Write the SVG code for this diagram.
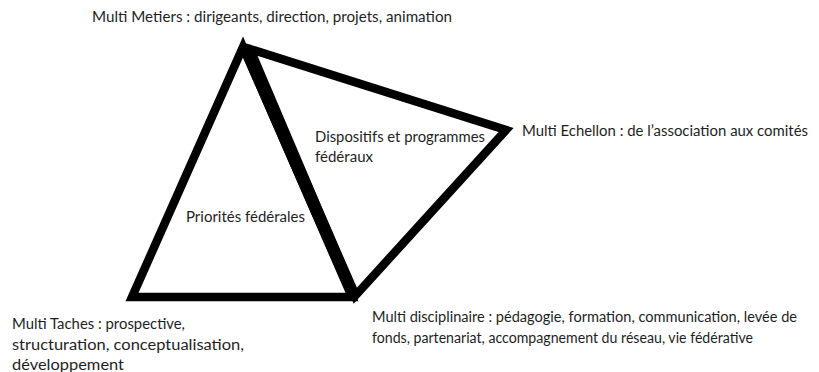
<svg xmlns="http://www.w3.org/2000/svg" width="819" height="372" viewBox="0 0 819 372">
<style>
.edge{fill:none;stroke:#000;stroke-width:8.5;stroke-linejoin:miter;stroke-miterlimit:20}
.t{font-family:Lato,"Open Sans","Liberation Sans",sans-serif;font-size:14.5px;fill:#1e1e1e}
</style>
<rect width="819" height="372" fill="#fff"/>
<g id="connectors">
<polygon class="edge" points="243,47 132,297 352,297"/>
<polygon class="edge" points="250,49 506,130 355,296"/>
<line x1="245" y1="47" x2="354" y2="296" stroke="#000" stroke-width="12"/>
</g>
<g id="node-metiers"><text class="t" x="92" y="22" textLength="360" lengthAdjust="spacingAndGlyphs">Multi Metiers : dirigeants, direction, projets, animation</text></g>
<g id="node-dispositifs"><text class="t" x="315" y="142" textLength="170" lengthAdjust="spacingAndGlyphs">Dispositifs et programmes</text><text class="t" x="315" y="162" textLength="58" lengthAdjust="spacingAndGlyphs">fédéraux</text></g>
<g id="node-priorites"><text class="t" x="186" y="222" textLength="119" lengthAdjust="spacingAndGlyphs">Priorités fédérales</text></g>
<g id="node-echellon"><text class="t" x="522" y="136" textLength="286" lengthAdjust="spacingAndGlyphs">Multi Echellon : de l’association aux comités</text></g>
<g id="node-taches"><text class="t" x="12" y="329" textLength="173" lengthAdjust="spacingAndGlyphs">Multi Taches : prospective,</text><text class="t" x="12" y="350" textLength="232" lengthAdjust="spacingAndGlyphs">structuration, conceptualisation,</text><text class="t" x="12" y="370" textLength="112" lengthAdjust="spacingAndGlyphs">développement</text></g>
<g id="node-disciplinaire"><text class="t" x="372" y="322" textLength="425" lengthAdjust="spacingAndGlyphs">Multi disciplinaire : pédagogie, formation, communication, levée de</text><text class="t" x="372" y="343" textLength="381" lengthAdjust="spacingAndGlyphs">fonds, partenariat, accompagnement du réseau, vie fédérative</text></g>
</svg>
